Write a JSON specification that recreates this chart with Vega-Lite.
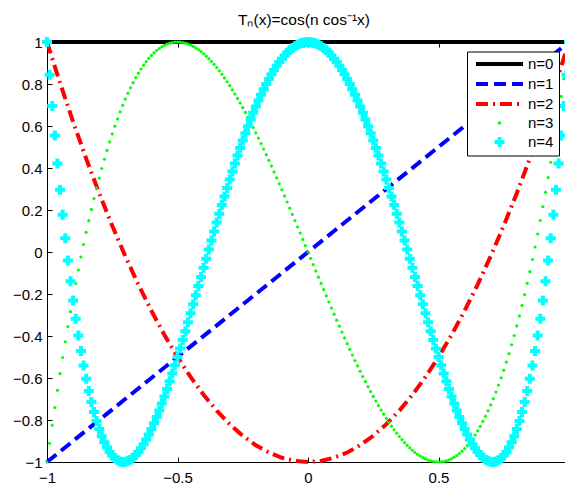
{
"$schema": "https://vega.github.io/schema/vega-lite/v6.json",
"width": 518, "height": 420,
"autosize": {"type": "none"},
"padding": {"left": 47, "top": 42, "right": 0, "bottom": 24},
"config": {
 "view": {"stroke": null},
 "font": "Liberation Sans",
 "axis": {"labelFont": "Liberation Sans", "labelFontSize": 15, "labelColor": "black", "domainColor": "black", "tickColor": "black", "grid": false, "labelFlush": false, "labelOverlap": false, "tickSize": -5, "title": null}
},
"title": {"text": "Tₙ(x)=cos(n cos⁻¹x)", "font": "Liberation Sans", "fontSize": 15.5, "fontWeight": "normal", "color": "black", "baseline": "alphabetic", "offset": -6, "frame": "group", "anchor": "middle", "dx": -2},
"resolve": {"axis": {"x": "independent"}},
"datasets": {
 "lin": [{"x": -1, "t0": 1, "t1": -1}, {"x": 1, "t0": 1, "t1": 1}],
 "quad": [
  {"x": -1, "t2": 1}, {"x": -0.95, "t2": 0.805}, {"x": -0.9, "t2": 0.62}, {"x": -0.85, "t2": 0.445}, {"x": -0.8, "t2": 0.28}, {"x": -0.75, "t2": 0.125}, {"x": -0.7, "t2": -0.02}, {"x": -0.65, "t2": -0.155}, {"x": -0.6, "t2": -0.28}, {"x": -0.55, "t2": -0.395}, {"x": -0.5, "t2": -0.5}, {"x": -0.45, "t2": -0.595}, {"x": -0.4, "t2": -0.68}, {"x": -0.35, "t2": -0.755}, {"x": -0.3, "t2": -0.82}, {"x": -0.25, "t2": -0.875}, {"x": -0.2, "t2": -0.92}, {"x": -0.15, "t2": -0.955}, {"x": -0.1, "t2": -0.98}, {"x": -0.05, "t2": -0.995}, {"x": 0, "t2": -1},
  {"x": 0.05, "t2": -0.995}, {"x": 0.1, "t2": -0.98}, {"x": 0.15, "t2": -0.955}, {"x": 0.2, "t2": -0.92}, {"x": 0.25, "t2": -0.875}, {"x": 0.3, "t2": -0.82}, {"x": 0.35, "t2": -0.755}, {"x": 0.4, "t2": -0.68}, {"x": 0.45, "t2": -0.595}, {"x": 0.5, "t2": -0.5}, {"x": 0.55, "t2": -0.395}, {"x": 0.6, "t2": -0.28}, {"x": 0.65, "t2": -0.155}, {"x": 0.7, "t2": -0.02}, {"x": 0.75, "t2": 0.125}, {"x": 0.8, "t2": 0.28}, {"x": 0.85, "t2": 0.445}, {"x": 0.9, "t2": 0.62}, {"x": 0.95, "t2": 0.805}, {"x": 1, "t2": 1}
 ],
 "pts": [
  {"x":-1,"t3":-1,"t4":1},
  {"x":-0.99,"t3":-0.9112,"t4":0.844},
  {"x":-0.98,"t3":-0.8248,"t4":0.6957},
  {"x":-0.97,"t3":-0.7407,"t4":0.5551},
  {"x":-0.96,"t3":-0.6589,"t4":0.422},
  {"x":-0.95,"t3":-0.5795,"t4":0.2961},
  {"x":-0.94,"t3":-0.5023,"t4":0.1772},
  {"x":-0.93,"t3":-0.4274,"t4":0.0652},
  {"x":-0.92,"t3":-0.3548,"t4":-0.0401},
  {"x":-0.91,"t3":-0.2843,"t4":-0.1388},
  {"x":-0.9,"t3":-0.216,"t4":-0.2312},
  {"x":-0.89,"t3":-0.1499,"t4":-0.3174},
  {"x":-0.88,"t3":-0.0859,"t4":-0.3976},
  {"x":-0.87,"t3":-0.024,"t4":-0.472},
  {"x":-0.86,"t3":0.0358,"t4":-0.5407},
  {"x":-0.85,"t3":0.0935,"t4":-0.604},
  {"x":-0.84,"t3":0.1492,"t4":-0.6618},
  {"x":-0.83,"t3":0.2029,"t4":-0.7145},
  {"x":-0.82,"t3":0.2545,"t4":-0.7622},
  {"x":-0.81,"t3":0.3042,"t4":-0.8051},
  {"x":-0.8,"t3":0.352,"t4":-0.8432},
  {"x":-0.79,"t3":0.3978,"t4":-0.8768},
  {"x":-0.78,"t3":0.4418,"t4":-0.906},
  {"x":-0.77,"t3":0.4839,"t4":-0.931},
  {"x":-0.76,"t3":0.5241,"t4":-0.9518},
  {"x":-0.75,"t3":0.5625,"t4":-0.9688},
  {"x":-0.74,"t3":0.5991,"t4":-0.9819},
  {"x":-0.73,"t3":0.6339,"t4":-0.9913},
  {"x":-0.72,"t3":0.667,"t4":-0.9973},
  {"x":-0.71,"t3":0.6984,"t4":-0.9999},
  {"x":-0.7,"t3":0.728,"t4":-0.9992},
  {"x":-0.69,"t3":0.756,"t4":-0.9954},
  {"x":-0.68,"t3":0.7823,"t4":-0.9887},
  {"x":-0.67,"t3":0.8069,"t4":-0.9791},
  {"x":-0.66,"t3":0.83,"t4":-0.9668},
  {"x":-0.65,"t3":0.8515,"t4":-0.952},
  {"x":-0.64,"t3":0.8714,"t4":-0.9346},
  {"x":-0.63,"t3":0.8898,"t4":-0.915},
  {"x":-0.62,"t3":0.9067,"t4":-0.8931},
  {"x":-0.61,"t3":0.9221,"t4":-0.8691},
  {"x":-0.6,"t3":0.936,"t4":-0.8432},
  {"x":-0.59,"t3":0.9485,"t4":-0.8154},
  {"x":-0.58,"t3":0.9596,"t4":-0.7859},
  {"x":-0.57,"t3":0.9692,"t4":-0.7547},
  {"x":-0.56,"t3":0.9775,"t4":-0.722},
  {"x":-0.55,"t3":0.9845,"t4":-0.688},
  {"x":-0.54,"t3":0.9901,"t4":-0.6526},
  {"x":-0.53,"t3":0.9945,"t4":-0.616},
  {"x":-0.52,"t3":0.9976,"t4":-0.5783},
  {"x":-0.51,"t3":0.9994,"t4":-0.5396},
  {"x":-0.5,"t3":1,"t4":-0.5},
  {"x":-0.49,"t3":0.9994,"t4":-0.4596},
  {"x":-0.48,"t3":0.9976,"t4":-0.4185},
  {"x":-0.47,"t3":0.9947,"t4":-0.3768},
  {"x":-0.46,"t3":0.9907,"t4":-0.3346},
  {"x":-0.45,"t3":0.9855,"t4":-0.292},
  {"x":-0.44,"t3":0.9793,"t4":-0.249},
  {"x":-0.43,"t3":0.972,"t4":-0.2057},
  {"x":-0.42,"t3":0.9636,"t4":-0.1623},
  {"x":-0.41,"t3":0.9543,"t4":-0.1187},
  {"x":-0.4,"t3":0.944,"t4":-0.0752},
  {"x":-0.39,"t3":0.9327,"t4":-0.0317},
  {"x":-0.38,"t3":0.9205,"t4":0.0116},
  {"x":-0.37,"t3":0.9074,"t4":0.0547},
  {"x":-0.36,"t3":0.8934,"t4":0.0976},
  {"x":-0.35,"t3":0.8785,"t4":0.1401},
  {"x":-0.34,"t3":0.8628,"t4":0.1821},
  {"x":-0.33,"t3":0.8463,"t4":0.2237},
  {"x":-0.32,"t3":0.8289,"t4":0.2647},
  {"x":-0.31,"t3":0.8108,"t4":0.3051},
  {"x":-0.3,"t3":0.792,"t4":0.3448},
  {"x":-0.29,"t3":0.7724,"t4":0.3838},
  {"x":-0.28,"t3":0.7522,"t4":0.422},
  {"x":-0.27,"t3":0.7313,"t4":0.4593},
  {"x":-0.26,"t3":0.7097,"t4":0.4958},
  {"x":-0.25,"t3":0.6875,"t4":0.5313},
  {"x":-0.24,"t3":0.6647,"t4":0.5657},
  {"x":-0.23,"t3":0.6413,"t4":0.5992},
  {"x":-0.22,"t3":0.6174,"t4":0.6315},
  {"x":-0.21,"t3":0.593,"t4":0.6628},
  {"x":-0.2,"t3":0.568,"t4":0.6928},
  {"x":-0.19,"t3":0.5426,"t4":0.7216},
  {"x":-0.18,"t3":0.5167,"t4":0.7492},
  {"x":-0.17,"t3":0.4903,"t4":0.7755},
  {"x":-0.16,"t3":0.4636,"t4":0.8004},
  {"x":-0.15,"t3":0.4365,"t4":0.8241},
  {"x":-0.14,"t3":0.409,"t4":0.8463},
  {"x":-0.13,"t3":0.3812,"t4":0.8671},
  {"x":-0.12,"t3":0.3531,"t4":0.8865},
  {"x":-0.11,"t3":0.3247,"t4":0.9044},
  {"x":-0.1,"t3":0.296,"t4":0.9208},
  {"x":-0.09,"t3":0.2671,"t4":0.9357},
  {"x":-0.08,"t3":0.238,"t4":0.9491},
  {"x":-0.07,"t3":0.2086,"t4":0.961},
  {"x":-0.06,"t3":0.1791,"t4":0.9713},
  {"x":-0.05,"t3":0.1495,"t4":0.9801},
  {"x":-0.04,"t3":0.1197,"t4":0.9872},
  {"x":-0.03,"t3":0.0899,"t4":0.9928},
  {"x":-0.02,"t3":0.06,"t4":0.9968},
  {"x":-0.01,"t3":0.03,"t4":0.9992},
  {"x":0,"t3":0,"t4":1},
  {"x":0.01,"t3":-0.03,"t4":0.9992},
  {"x":0.02,"t3":-0.06,"t4":0.9968},
  {"x":0.03,"t3":-0.0899,"t4":0.9928},
  {"x":0.04,"t3":-0.1197,"t4":0.9872},
  {"x":0.05,"t3":-0.1495,"t4":0.9801},
  {"x":0.06,"t3":-0.1791,"t4":0.9713},
  {"x":0.07,"t3":-0.2086,"t4":0.961},
  {"x":0.08,"t3":-0.238,"t4":0.9491},
  {"x":0.09,"t3":-0.2671,"t4":0.9357},
  {"x":0.1,"t3":-0.296,"t4":0.9208},
  {"x":0.11,"t3":-0.3247,"t4":0.9044},
  {"x":0.12,"t3":-0.3531,"t4":0.8865},
  {"x":0.13,"t3":-0.3812,"t4":0.8671},
  {"x":0.14,"t3":-0.409,"t4":0.8463},
  {"x":0.15,"t3":-0.4365,"t4":0.8241},
  {"x":0.16,"t3":-0.4636,"t4":0.8004},
  {"x":0.17,"t3":-0.4903,"t4":0.7755},
  {"x":0.18,"t3":-0.5167,"t4":0.7492},
  {"x":0.19,"t3":-0.5426,"t4":0.7216},
  {"x":0.2,"t3":-0.568,"t4":0.6928},
  {"x":0.21,"t3":-0.593,"t4":0.6628},
  {"x":0.22,"t3":-0.6174,"t4":0.6315},
  {"x":0.23,"t3":-0.6413,"t4":0.5992},
  {"x":0.24,"t3":-0.6647,"t4":0.5657},
  {"x":0.25,"t3":-0.6875,"t4":0.5313},
  {"x":0.26,"t3":-0.7097,"t4":0.4958},
  {"x":0.27,"t3":-0.7313,"t4":0.4593},
  {"x":0.28,"t3":-0.7522,"t4":0.422},
  {"x":0.29,"t3":-0.7724,"t4":0.3838},
  {"x":0.3,"t3":-0.792,"t4":0.3448},
  {"x":0.31,"t3":-0.8108,"t4":0.3051},
  {"x":0.32,"t3":-0.8289,"t4":0.2647},
  {"x":0.33,"t3":-0.8463,"t4":0.2237},
  {"x":0.34,"t3":-0.8628,"t4":0.1821},
  {"x":0.35,"t3":-0.8785,"t4":0.1401},
  {"x":0.36,"t3":-0.8934,"t4":0.0976},
  {"x":0.37,"t3":-0.9074,"t4":0.0547},
  {"x":0.38,"t3":-0.9205,"t4":0.0116},
  {"x":0.39,"t3":-0.9327,"t4":-0.0317},
  {"x":0.4,"t3":-0.944,"t4":-0.0752},
  {"x":0.41,"t3":-0.9543,"t4":-0.1187},
  {"x":0.42,"t3":-0.9636,"t4":-0.1623},
  {"x":0.43,"t3":-0.972,"t4":-0.2057},
  {"x":0.44,"t3":-0.9793,"t4":-0.249},
  {"x":0.45,"t3":-0.9855,"t4":-0.292},
  {"x":0.46,"t3":-0.9907,"t4":-0.3346},
  {"x":0.47,"t3":-0.9947,"t4":-0.3768},
  {"x":0.48,"t3":-0.9976,"t4":-0.4185},
  {"x":0.49,"t3":-0.9994,"t4":-0.4596},
  {"x":0.5,"t3":-1,"t4":-0.5},
  {"x":0.51,"t3":-0.9994,"t4":-0.5396},
  {"x":0.52,"t3":-0.9976,"t4":-0.5783},
  {"x":0.53,"t3":-0.9945,"t4":-0.616},
  {"x":0.54,"t3":-0.9901,"t4":-0.6526},
  {"x":0.55,"t3":-0.9845,"t4":-0.688},
  {"x":0.56,"t3":-0.9775,"t4":-0.722},
  {"x":0.57,"t3":-0.9692,"t4":-0.7547},
  {"x":0.58,"t3":-0.9596,"t4":-0.7859},
  {"x":0.59,"t3":-0.9485,"t4":-0.8154},
  {"x":0.6,"t3":-0.936,"t4":-0.8432},
  {"x":0.61,"t3":-0.9221,"t4":-0.8691},
  {"x":0.62,"t3":-0.9067,"t4":-0.8931},
  {"x":0.63,"t3":-0.8898,"t4":-0.915},
  {"x":0.64,"t3":-0.8714,"t4":-0.9346},
  {"x":0.65,"t3":-0.8515,"t4":-0.952},
  {"x":0.66,"t3":-0.83,"t4":-0.9668},
  {"x":0.67,"t3":-0.8069,"t4":-0.9791},
  {"x":0.68,"t3":-0.7823,"t4":-0.9887},
  {"x":0.69,"t3":-0.756,"t4":-0.9954},
  {"x":0.7,"t3":-0.728,"t4":-0.9992},
  {"x":0.71,"t3":-0.6984,"t4":-0.9999},
  {"x":0.72,"t3":-0.667,"t4":-0.9973},
  {"x":0.73,"t3":-0.6339,"t4":-0.9913},
  {"x":0.74,"t3":-0.5991,"t4":-0.9819},
  {"x":0.75,"t3":-0.5625,"t4":-0.9688},
  {"x":0.76,"t3":-0.5241,"t4":-0.9518},
  {"x":0.77,"t3":-0.4839,"t4":-0.931},
  {"x":0.78,"t3":-0.4418,"t4":-0.906},
  {"x":0.79,"t3":-0.3978,"t4":-0.8768},
  {"x":0.8,"t3":-0.352,"t4":-0.8432},
  {"x":0.81,"t3":-0.3042,"t4":-0.8051},
  {"x":0.82,"t3":-0.2545,"t4":-0.7622},
  {"x":0.83,"t3":-0.2029,"t4":-0.7145},
  {"x":0.84,"t3":-0.1492,"t4":-0.6618},
  {"x":0.85,"t3":-0.0935,"t4":-0.604},
  {"x":0.86,"t3":-0.0358,"t4":-0.5407},
  {"x":0.87,"t3":0.024,"t4":-0.472},
  {"x":0.88,"t3":0.0859,"t4":-0.3976},
  {"x":0.89,"t3":0.1499,"t4":-0.3174},
  {"x":0.9,"t3":0.216,"t4":-0.2312},
  {"x":0.91,"t3":0.2843,"t4":-0.1388},
  {"x":0.92,"t3":0.3548,"t4":-0.0401},
  {"x":0.93,"t3":0.4274,"t4":0.0652},
  {"x":0.94,"t3":0.5023,"t4":0.1772},
  {"x":0.95,"t3":0.5795,"t4":0.2961},
  {"x":0.96,"t3":0.6589,"t4":0.422},
  {"x":0.97,"t3":0.7407,"t4":0.5551},
  {"x":0.98,"t3":0.8248,"t4":0.6957},
  {"x":0.99,"t3":0.9112,"t4":0.844},
  {"x":1,"t3":1,"t4":1}
 ]
},
"layer": [
 {
  "data": {"name": "lin"},
  "mark": {"type": "line", "strokeWidth": 4, "strokeCap": "butt"},
  "encoding": {
   "x": {"field": "x", "type": "quantitative", "scale": {"domain": [-1, 0.98467], "nice": false, "zero": false},
         "axis": {"orient": "bottom", "values": [-1, -0.5, 0, 0.5], "format": "~g", "labelPadding": 13,
                  "encode": {"labels": {"update": {"dx": {"signal": "datum.value === -1 ? -6 : datum.value < 0 ? -3 : 0"}}}}}},
   "y": {"field": "t0", "type": "quantitative", "scale": {"domain": [-1, 1], "nice": false, "zero": false},
         "axis": {"orient": "left", "values": [-1, -0.8, -0.6, -0.4, -0.2, 0, 0.2, 0.4, 0.6, 0.8, 1], "format": "~g", "labelPadding": 10, "labelDy": 1}},
   "color": {"datum": "n=0", "type": "nominal",
     "scale": {"domain": ["n=0", "n=1", "n=2", "n=3", "n=4"], "range": ["#000000", "#0000ff", "#ff0000", "#00ff00", "#00ffff"]},
     "legend": {"orient": "none", "legendX": 420, "legendY": 9.5, "title": null, "strokeColor": "black", "fillColor": "white",
       "padding": 5, "labelFont": "Liberation Sans", "labelFontSize": 15, "labelColor": "black", "labelOffset": 21, "symbolOffset": 20,
       "labelExpr": "datum.label + '\u00a0'",
       "symbolType": "circle", "symbolSize": 100, "symbolStrokeWidth": 4, "rowPadding": 3,
       "encode": {"symbols": {"update": {
         "shape": {"signal": "datum.value === 'n=3' ? 'M-0.35,0A0.35,0.35,0,1,0,0.35,0A0.35,0.35,0,1,0,-0.35,0Z' : datum.value === 'n=4' ? 'cross' : 'M-4.7,0L4.7,0'"},
         "fill": {"signal": "datum.value === 'n=3' ? '#00ff00' : datum.value === 'n=4' ? '#00ffff' : 'transparent'"},
         "stroke": {"signal": "datum.value === 'n=0' ? '#000000' : datum.value === 'n=1' ? '#0000ff' : datum.value === 'n=2' ? '#ff0000' : 'transparent'"},
         "strokeOpacity": {"signal": "datum.value === 'n=3' || datum.value === 'n=4' ? 0 : 1"},
         "strokeDash": {"signal": "datum.value === 'n=1' ? [12, 6] : datum.value === 'n=2' ? [12, 5, 2, 5] : [1, 0]"},
         "strokeCap": {"value": "butt"},
         "opacity": {"value": 1}
       }}}}
   }
  }
 },
 {
  "data": {"name": "lin"},
  "mark": {"type": "line", "strokeWidth": 4, "strokeDash": [12, 6], "strokeCap": "butt"},
  "encoding": {
   "x": {"field": "x", "type": "quantitative", "axis": {"orient": "top", "values": [-1, -0.5, 0, 0.5], "labels": false}},
   "y": {"field": "t1", "type": "quantitative"},
   "color": {"datum": "n=1", "type": "nominal"}
  }
 },
 {
  "data": {"name": "quad"},
  "mark": {"type": "line", "strokeWidth": 4, "strokeDash": [12, 5, 2, 5], "strokeCap": "butt"},
  "encoding": {
   "x": {"field": "x", "type": "quantitative", "axis": null},
   "y": {"field": "t2", "type": "quantitative"},
   "color": {"datum": "n=2", "type": "nominal"}
  }
 },
 {
  "data": {"name": "pts"},
  "mark": {"type": "point", "shape": "circle", "filled": true, "size": 10, "opacity": 1, "strokeWidth": 0},
  "encoding": {
   "x": {"field": "x", "type": "quantitative", "axis": null},
   "y": {"field": "t3", "type": "quantitative"},
   "color": {"datum": "n=3", "type": "nominal"}
  }
 },
 {
  "data": {"name": "pts"},
  "mark": {"type": "point", "shape": "cross", "filled": true, "size": 100, "opacity": 1, "strokeWidth": 0},
  "encoding": {
   "x": {"field": "x", "type": "quantitative", "axis": null},
   "y": {"field": "t4", "type": "quantitative"},
   "color": {"datum": "n=4", "type": "nominal"}
  }
 }
]
}
